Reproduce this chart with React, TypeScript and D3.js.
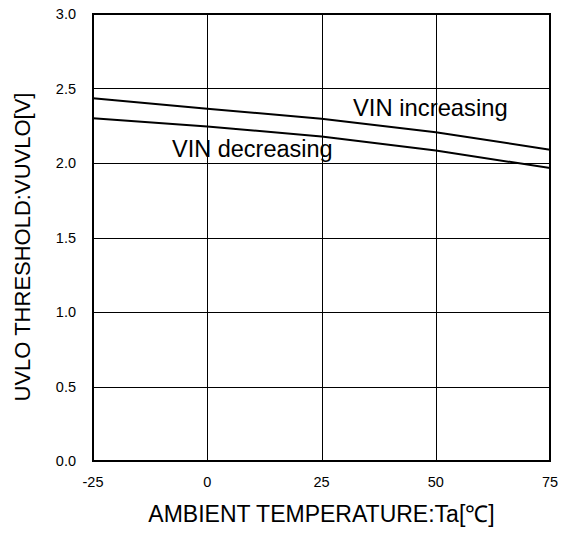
import React from 'react';
import * as d3 from 'd3';

// temperature points (°C)
const temps = [-25, 0, 25, 50, 75];
// UVLO threshold voltages (V)
const vinIncreasing = [2.435, 2.364, 2.297, 2.207, 2.089];
const vinDecreasing = [2.301, 2.245, 2.178, 2.084, 1.966];

const xTicks = [-25, 0, 25, 50, 75];
const yTicks = [0, 0.5, 1.0, 1.5, 2.0, 2.5, 3.0];

export default function App() {
  const w = 568;
  const h = 536;
  const left = 93;
  const right = 550;
  const top = 14;
  const bottom = 461;

  const x = d3.scaleLinear().domain([-25, 75]).range([left, right]);
  const y = d3.scaleLinear().domain([0, 3]).range([bottom, top]);

  const line = d3
    .line<number>()
    .x((d, i) => x(temps[i]))
    .y((d) => y(d));

  const font = 'Liberation Sans, Arial, Helvetica, sans-serif';

  return (
    <svg
      width={w}
      height={h}
      style={{ position: 'absolute', left: 0, top: 0, background: '#fff' }}
      fontFamily={font}
    >
      <rect x={0} y={0} width={w} height={h} fill="#fff" />
      {/* grid */}
      {xTicks.slice(1, -1).map((t) => (
        <line
          key={'gx' + t}
          x1={Math.round(x(t)) + 0.5}
          x2={Math.round(x(t)) + 0.5}
          y1={top}
          y2={bottom}
          stroke="#000"
          strokeWidth={1}
        />
      ))}
      {yTicks.slice(1, -1).map((t) => (
        <line
          key={'gy' + t}
          x1={left}
          x2={right}
          y1={Math.round(y(t)) + 0.5}
          y2={Math.round(y(t)) + 0.5}
          stroke="#000"
          strokeWidth={1}
        />
      ))}
      {/* curves */}
      <path d={line(vinIncreasing) || ''} fill="none" stroke="#000" strokeWidth={2} />
      <path d={line(vinDecreasing) || ''} fill="none" stroke="#000" strokeWidth={2} />
      {/* frame */}
      <rect
        x={left}
        y={top}
        width={right - left}
        height={bottom - top}
        fill="none"
        stroke="#000"
        strokeWidth={2}
      />
      {/* tick labels */}
      {yTicks.map((t) => (
        <text
          key={'ty' + t}
          x={76}
          y={y(t)}
          dy="0.35em"
          textAnchor="end"
          fontSize={14.5}
          fill="#000"
        >
          {t.toFixed(1)}
        </text>
      ))}
      {xTicks.map((t) => (
        <text
          key={'tx' + t}
          x={x(t)}
          y={487}
          textAnchor="middle"
          fontSize={14.5}
          fill="#000"
        >
          {t}
        </text>
      ))}
      {/* curve labels */}
      <text x={353} y={116} fontSize={23.8} fill="#000">
        VIN increasing
      </text>
      <text x={172} y={157} fontSize={23.5} fill="#000">
        VIN decreasing
      </text>
      {/* axis titles */}
      <text x={(left + right) / 2} y={522} textAnchor="middle" fontSize={23} fill="#000">
        AMBIENT TEMPERATURE:Ta[℃]
      </text>
      <text
        transform={`translate(30, 247) rotate(-90)`}
        textAnchor="middle"
        fontSize={22}
        fill="#000"
      >
        UVLO THRESHOLD:VUVLO[V]
      </text>
    </svg>
  );
}
